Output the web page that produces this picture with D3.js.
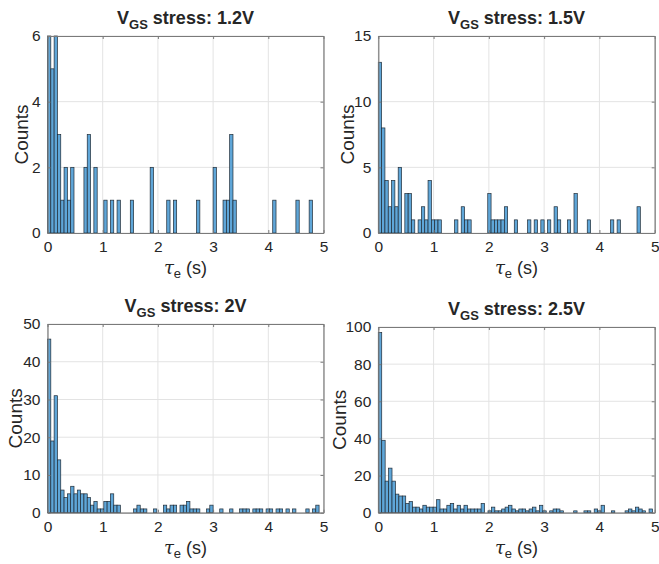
<!DOCTYPE html>
<html>
<head>
<meta charset="utf-8">
<script src="https://cdn.jsdelivr.net/npm/d3@7"></script>
<style>
  html, body { margin: 0; padding: 0; background: #fff; }
  svg text { font-family: "Liberation Sans", Arial, Helvetica, sans-serif; fill: #262626; }
</style>
</head>
<body>
<svg id="chart" width="659" height="564"></svg>
<script>
// Histogram counts of emission times per stress voltage (bins start at 0 s)
const stressLabels = ["1.2V", "1.5V", "2V", "2.5V"];
const binWidths = [0.06, 0.06, 0.06, 0.062];

const counts12 = [6,5,6,3,1,2,1,2,0,0, 0,2,3,0,2,0,0,1,0,1, 0,1,0,0,0,1,0,0,0,0,
  0,2,0,0,0,0,1,0,1,0, 0,0,0,0,0,1,0,0,0,0, 2,0,0,1,1,3,1,0,0,0,
  0,0,0,0,0,0,0,0,1,0, 0,0,0,0,0,1,0,0,0,1];
const counts15 = [13,8,4,2,4,2,5,0,3,3, 1,0,1,2,1,4,1,1,1,0, 0,0,0,1,0,2,1,1,0,0,
  0,0,0,3,1,1,1,1,2,0, 0,1,0,0,0,1,0,1,0,1, 0,1,0,2,1,0,0,1,0,3,
  0,0,0,1,0,0,0,0,0,0, 1,0,1,0,0,0,0,0,2,0];
const counts20 = [46,19,31,14,6,4,5,7,5,6, 5,5,4,2,3,1,1,3,3,5, 2,2,0,0,0,0,1,2,1,1,
  0,0,1,0,0,2,1,2,2,0, 2,2,3,1,1,1,0,0,1,2, 0,0,1,0,0,1,0,0,1,1,
  1,0,1,1,1,0,1,1,0,1, 1,0,1,0,1,0,0,0,1,0, 1,2];
const counts25 = [97,39,17,24,17,10,9,9,5,6, 3,3,2,4,3,3,3,7,2,2, 4,5,2,4,2,4,2,2,2,2,
  5,0,1,3,1,1,2,3,4,2, 1,2,2,1,2,3,1,4,1,0, 1,2,2,1,0,0,0,1,0,0,
  1,1,0,2,1,4,0,0,1,0, 0,0,1,2,1,3,2,1,0,2];
const seriesCounts = [counts12, counts15, counts20, counts25];

const xDomain = [0, 5];
const xTicks = [0, 1, 2, 3, 4, 5];
const yDomains = [[0, 6], [0, 15], [0, 50], [0, 100]];
const yTicks = [[0, 2, 4, 6], [0, 5, 10, 15], [0, 10, 20, 30, 40, 50], [0, 20, 40, 60, 80, 100]];

// Plot-area boxes for the 2x2 grid
const boxes = [
  { x0: 47.5, x1: 323.5, y0: 36, y1: 233, labelX: 21 },
  { x0: 378.3, x1: 654.7, y0: 36, y1: 233, labelX: 347 },
  { x0: 47.5, x1: 323.5, y0: 324, y1: 512.7, labelX: 15 },
  { x0: 378.3, x1: 654.7, y0: 327, y1: 512.7, labelX: 339 }
];

const svg = d3.select("#chart");
const axisColor = "#7a7a7a";
const gridColor = "#e3e3e3";
const barFill = "#5fa6d8";
const barStroke = "#1f2b36";
const fontFam = '"Liberation Sans", Arial, sans-serif';

boxes.forEach((b, i) => {
  const x = d3.scaleLinear().domain(xDomain).range([b.x0, b.x1]);
  const y = d3.scaleLinear().domain(yDomains[i]).range([b.y1, b.y0]);
  const g = svg.append("g");

  // grid
  g.selectAll("line.gx").data(xTicks).join("line")
    .attr("x1", d => x(d)).attr("x2", d => x(d))
    .attr("y1", b.y0).attr("y2", b.y1)
    .attr("stroke", gridColor).attr("stroke-width", 1);
  g.selectAll("line.gy").data(yTicks[i]).join("line")
    .attr("x1", b.x0).attr("x2", b.x1)
    .attr("y1", d => y(d)).attr("y2", d => y(d))
    .attr("stroke", gridColor).attr("stroke-width", 1);

  // bars
  const w = binWidths[i];
  const bins = seriesCounts[i].map((c, k) => ({ x0: k * w, x1: (k + 1) * w, c }))
    .filter(d => d.c > 0);
  g.selectAll("rect.bar").data(bins).join("rect")
    .attr("x", d => x(d.x0))
    .attr("width", d => x(d.x1) - x(d.x0))
    .attr("y", d => y(d.c))
    .attr("height", d => y(0) - y(d.c))
    .attr("fill", barFill)
    .attr("stroke", barStroke)
    .attr("stroke-width", 0.7);

  // axes box (with inward ticks on all four sides)
  const fmt = d3.format("d");
  const bottom = d3.axisBottom(x).tickValues(xTicks).tickFormat(fmt).tickSizeInner(-3).tickSizeOuter(0).tickPadding(8);
  const left = d3.axisLeft(y).tickValues(yTicks[i]).tickFormat(fmt).tickSizeInner(-3).tickSizeOuter(0).tickPadding(7);
  const top = d3.axisTop(x).tickValues(xTicks).tickSizeInner(-3).tickSizeOuter(0).tickFormat("");
  const right = d3.axisRight(y).tickValues(yTicks[i]).tickSizeInner(-3).tickSizeOuter(0).tickFormat("");

  const ax = [
    g.append("g").attr("transform", `translate(0,${b.y1})`).call(bottom),
    g.append("g").attr("transform", `translate(${b.x0},0)`).call(left),
    g.append("g").attr("transform", `translate(0,${b.y0})`).call(top),
    g.append("g").attr("transform", `translate(${b.x1},0)`).call(right)
  ];
  ax.forEach(a => {
    a.select(".domain").attr("stroke", axisColor).attr("stroke-width", 1.2);
    a.selectAll(".tick line").attr("stroke", axisColor);
    a.selectAll(".tick text").attr("font-size", 15.5).attr("fill", "#262626")
      .attr("font-family", fontFam);
  });

  // title: V_GS stress: ...
  const cx = (b.x0 + b.x1) / 2;
  const title = g.append("text")
    .attr("x", cx).attr("y", b.y0 - 12)
    .attr("text-anchor", "middle")
    .attr("font-size", 18).attr("font-weight", "bold");
  title.append("tspan").text("V");
  title.append("tspan").attr("font-size", 13).attr("dy", 5).text("GS");
  title.append("tspan").attr("dy", -5).text(" stress: " + stressLabels[i]);

  // y label
  g.append("text")
    .attr("transform", `translate(${b.labelX},${(b.y0 + b.y1) / 2}) rotate(-90)`)
    .attr("text-anchor", "middle").attr("dy", "0.35em")
    .attr("font-size", 19)
    .text("Counts");

  // x label: tau_e (s)
  const xl = g.append("text")
    .attr("x", cx).attr("y", b.y1 + 41)
    .attr("text-anchor", "middle")
    .attr("font-size", 18);
  xl.append("tspan").attr("font-style", "italic").attr("font-family", '"DejaVu Serif", serif').text("τ");
  xl.append("tspan").attr("font-size", 13).attr("dy", 4).text("e");
  xl.append("tspan").attr("dy", -4).text(" (s)");
});
</script>
</body>
</html>
